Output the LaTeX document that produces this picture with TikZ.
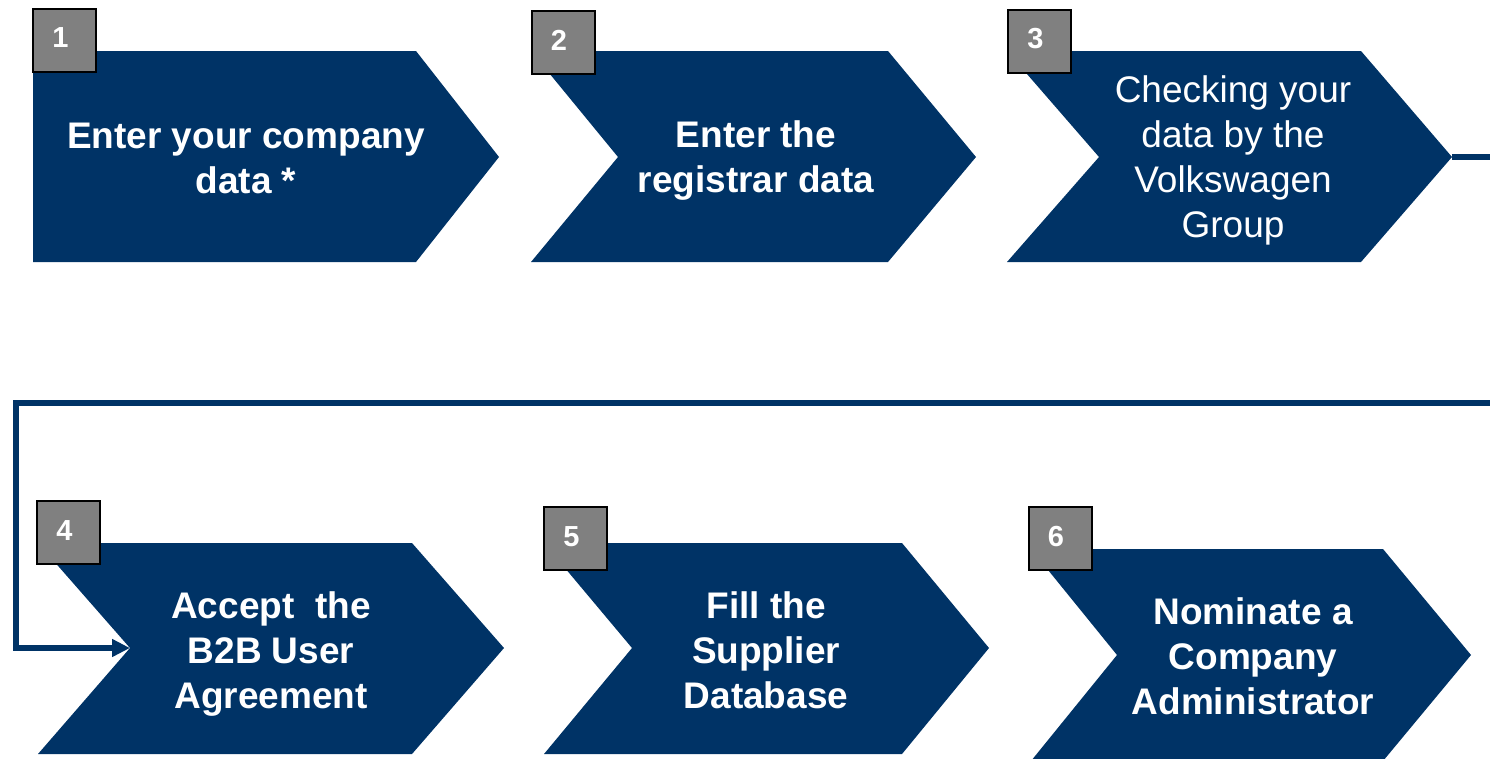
\documentclass[tikz,border=0pt]{standalone}
\usepackage{fontspec}
\setmainfont{Liberation Sans}
\usetikzlibrary{arrows.meta}
\definecolor{navy}{RGB}{0,51,102}
\definecolor{numgray}{RGB}{128,128,128}
\begin{document}
\begin{tikzpicture}[x=1pt,y=-1pt,
  chev/.style={fill=navy,draw=none},
  numbox/.style={fill=numgray,draw=black,line width=2pt,minimum width=63pt,minimum height=63pt,inner sep=0pt},
  numtxt/.style={text=white,inner sep=0pt,font=\fontsize{29}{29}\selectfont\bfseries},
  lbl/.style={text=white,align=center,inner sep=0pt,font=\fontsize{37}{45}\selectfont\bfseries},
  lblr/.style={text=white,align=center,inner sep=0pt,font=\fontsize{37}{45}\selectfont},
  conn/.style={draw=navy,line width=6pt,line join=miter}]
\useasboundingbox (0,0) rectangle (1490,758);
\clip (0,0) rectangle (1490,758);

% chevrons
\fill[chev] (33,51) -- (416,51) -- (499,157) -- (416,262) -- (33,262) -- cycle;
\fill[chev] (531,51) -- (888,51) -- (976,157) -- (888,262) -- (531,262) -- (618,157) -- cycle;
\fill[chev] (1007,51) -- (1361,51) -- (1452,157) -- (1361,262) -- (1007,262) -- (1099,157) -- cycle;
\fill[chev] (38,543) -- (412,543) -- (504,648) -- (412,754) -- (38,754) -- (130,648) -- cycle;
\fill[chev] (544,543) -- (902,543) -- (989,648) -- (902,754) -- (544,754) -- (632,648) -- cycle;
\fill[chev] (1031,549) -- (1383,549) -- (1471,655) -- (1383,761) -- (1031,761) -- (1117,655) -- cycle;

% labels
\node[lbl]  (t1) at (246,158) {Enter your company\\data *};
\node[lbl]  (t2) at (756,161) {Enter the\\registrar data};
\node[lblr] (t3) at (1233,160) {Checking your\\data by the\\Volkswagen\\Group};
\node[lbl]  (t4) at (271,654) {Accept~ the\\B2B User\\Agreement};
\node[lbl]  (t5) at (766,650) {Fill the\\Supplier\\Database};
\node[lbl]  (t6) at (1253,656) {Nominate a\\Company\\Administrator};

% number boxes
\node[numbox] (b1) at (64.5,40) {};
\node[numbox] (b2) at (563,42.5) {};
\node[numbox] (b3) at (1039.5,41) {};
\node[numbox] (b4) at (68.5,532.5) {};
\node[numbox] (b5) at (575.5,538.5) {};
\node[numbox] (b6) at (1060,538.5) {};
\node[numtxt] (n1) at ([shift={(-4,-2)}]b1.center) {1};
\node[numtxt] (n2) at ([shift={(-4,-2)}]b2.center) {2};
\node[numtxt] (n3) at ([shift={(-4,-2)}]b3.center) {3};
\node[numtxt] (n4) at ([shift={(-4,-2)}]b4.center) {4};
\node[numtxt] (n5) at ([shift={(-4,-2)}]b5.center) {5};
\node[numtxt] (n6) at ([shift={(-4,-2)}]b6.center) {6};

% connector
\coordinate (tip3) at (1452,157);
\coordinate (r1) at (1497,157);
\coordinate (r2) at (1497,403);
\coordinate (l1) at (16,403);
\coordinate (l2) at (16,648);
\coordinate (notch4) at (130,648);
\draw[conn,-{Triangle[length=18pt,width=17pt]}] (tip3) -- (r1) -- (r2) -- (l1) -- (l2) -- (notch4);
\end{tikzpicture}
\end{document}
